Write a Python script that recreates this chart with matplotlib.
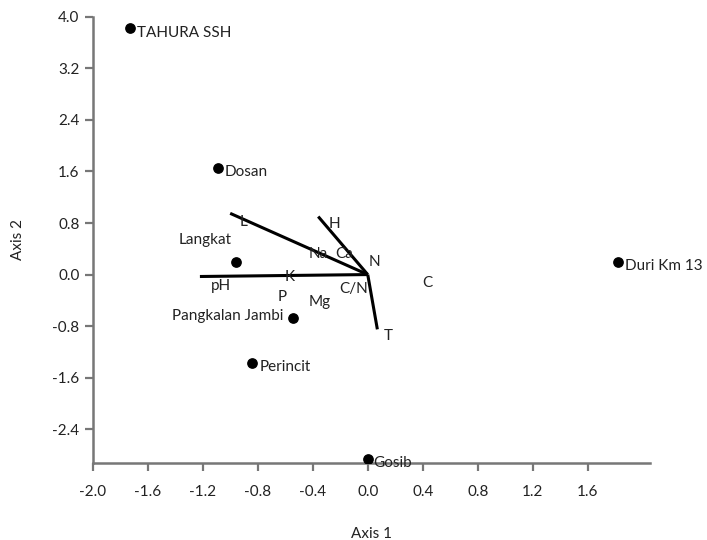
import matplotlib.pyplot as plt

# site scores
sites = ['TAHURA SSH', 'Dosan', 'Langkat', 'Pangkalan Jambi', 'Perincit', 'Gosib', 'Duri Km 13']
site_x = [-1.73, -1.09, -0.96, -0.54, -0.84, 0.0, 1.82]
site_y = [3.82, 1.65, 0.19, -0.67, -1.37, -2.86, 0.19]

# environmental vectors drawn as lines
vectors = ['L', 'H', 'pH', 'T']
vec_x = [-1.0, -0.36, -1.22, 0.07]
vec_y = [0.95, 0.90, -0.03, -0.85]

# variable labels
var_names = ['L', 'H', 'Na', 'Ca', 'N', 'C', 'C/N', 'K', 'pH', 'P', 'Mg', 'T']
var_x = [-0.90, -0.24, -0.36, -0.17, 0.05, 0.43, -0.10, -0.57, -1.07, -0.62, -0.35, 0.15]
var_y = [0.82, 0.78, 0.32, 0.32, 0.20, -0.13, -0.22, -0.03, -0.17, -0.35, -0.43, -0.95]

xticks = [-2.0, -1.6, -1.2, -0.8, -0.4, 0.0, 0.4, 0.8, 1.2, 1.6]
yticks = [-2.4, -1.6, -0.8, 0.0, 0.8, 1.6, 2.4, 3.2, 4.0]

plt.rcParams['font.family'] = ['Lato', 'DejaVu Sans']

fig = plt.figure(figsize=(7.07, 5.4), dpi=100)
ax = fig.add_axes([0.131, 0.143, 0.788, 0.826])

for vx, vy in zip(vec_x, vec_y):
    ax.plot([0, vx], [0, vy], color='black', linewidth=2.2, solid_capstyle='butt')

ax.scatter(site_x, site_y, s=45, color='black', zorder=3)

# site label offsets (points)
offs = {
    'TAHURA SSH': (5, -3, 'left', 'center'),
    'Dosan': (5, -3, 'left', 'center'),
    'Langkat': (-22, 16, 'center', 'center'),
    'Pangkalan Jambi': (-7, 1, 'right', 'center'),
    'Perincit': (5, -3, 'left', 'center'),
    'Gosib': (4, -3, 'left', 'center'),
    'Duri Km 13': (5, -3, 'left', 'center'),
}
for name, x, y in zip(sites, site_x, site_y):
    dx, dy, ha, va = offs[name]
    ax.annotate(name, (x, y), xytext=(dx, dy), textcoords='offset points',
                ha=ha, va=va, fontsize=11, color='#222222')

for name, x, y in zip(var_names, var_x, var_y):
    ax.text(x, y, name, ha='center', va='center', fontsize=11, color='#222222')

ax.set_xlim(-2.0, 2.05)
ax.set_ylim(-2.92, 4.0)
ax.set_xticks(xticks)
ax.set_yticks(yticks)
ax.set_xticklabels([f'{v:.1f}' for v in xticks])
ax.set_yticklabels([f'{v:.1f}' for v in yticks])

for s in ['top', 'right']:
    ax.spines[s].set_visible(False)
for s in ['left', 'bottom']:
    ax.spines[s].set_color('#777777')
    ax.spines[s].set_linewidth(1.8)
ax.tick_params(direction='out', length=6, width=1.6, color='#777777',
               labelsize=11, labelcolor='#222222')
ax.tick_params(axis='x', pad=10)

ax.set_xlabel('Axis 1', fontsize=11, color='#222222', labelpad=20)
ax.set_ylabel('Axis 2', fontsize=11, color='#222222', labelpad=20)

plt.savefig('out.png', dpi=100)
plt.close()
